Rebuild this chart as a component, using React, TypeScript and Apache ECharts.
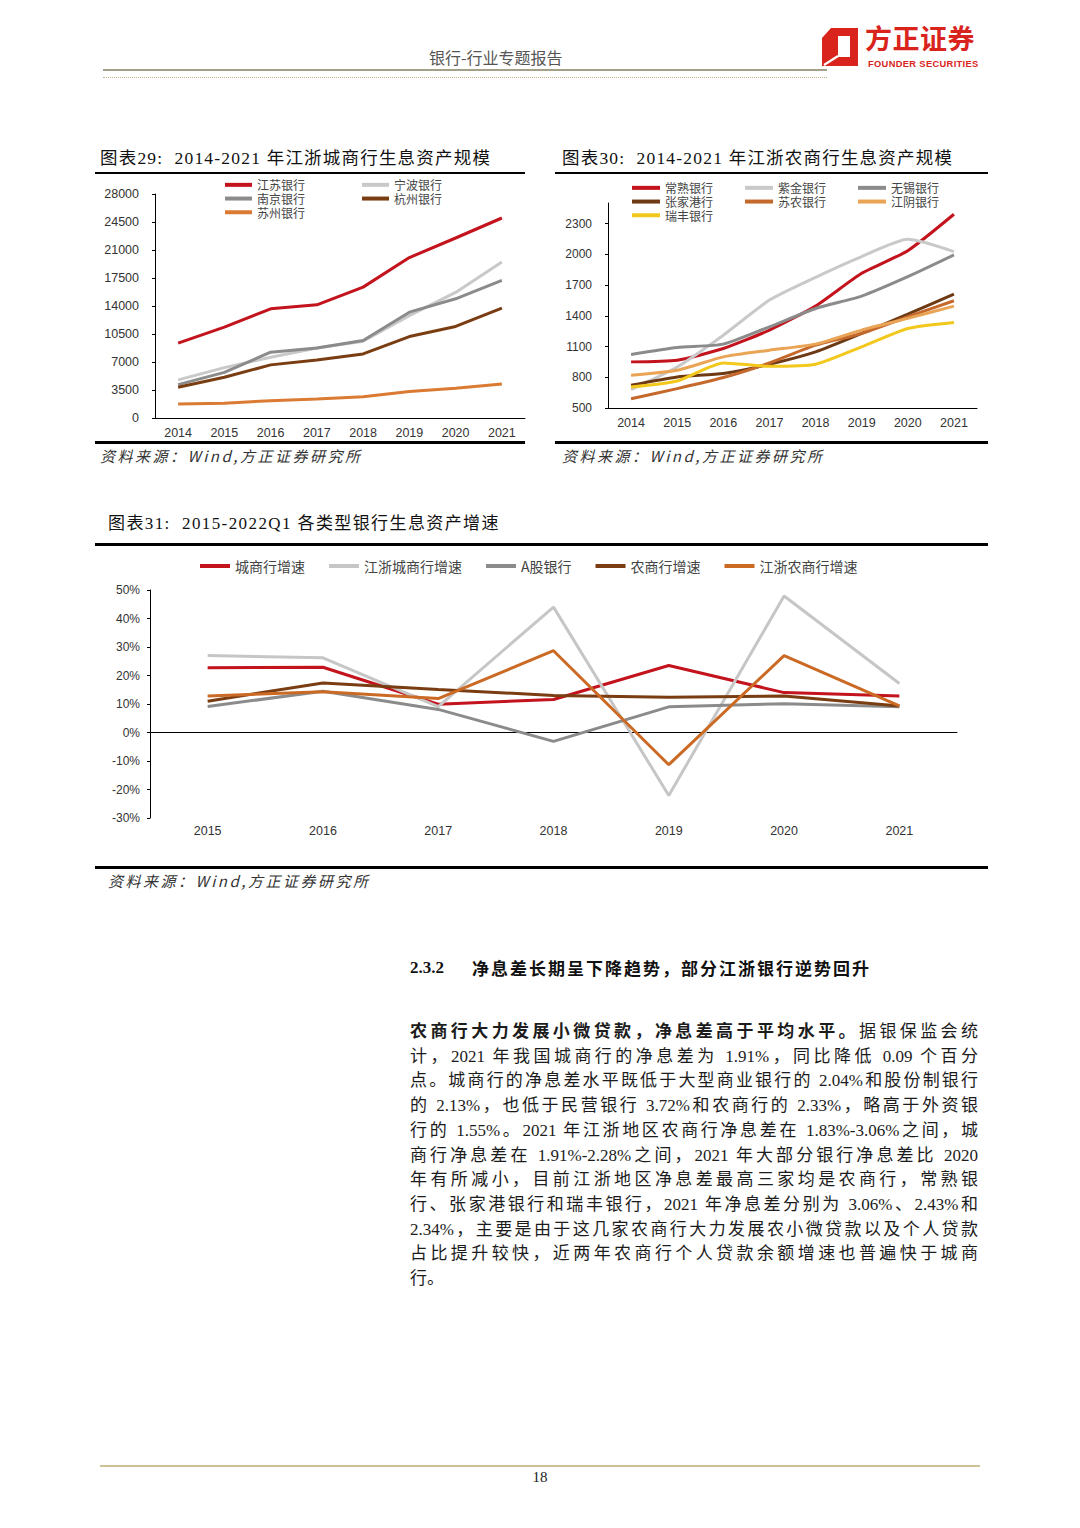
import React, { useEffect, useRef } from "react";
import * as echarts from "echarts";

// ---------- data ----------
const years = ["2014", "2015", "2016", "2017", "2018", "2019", "2020", "2021"];
// chart 29: city commercial banks (亿元)
const jiangsu = [9350, 11350, 13650, 14150, 16360, 20050, 22500, 25000];
const ningbo = [4760, 6300, 7600, 8760, 9600, 12800, 15700, 19500];
const nanjing = [4170, 5700, 8220, 8760, 9680, 13230, 14900, 17200];
const hangzhou = [3840, 5090, 6640, 7260, 8010, 10180, 11440, 13730];
const suzhou = [1750, 1840, 2170, 2380, 2670, 3300, 3710, 4260];
// chart 30: rural commercial banks
const changshu = [950, 966, 1080, 1260, 1494, 1814, 2035, 2390];
const zijin = [680, 900, 1210, 1553, 1775, 1977, 2146, 2026];
const wuxi = [1022, 1090, 1123, 1292, 1471, 1592, 1781, 1993];
const zhangjiagang = [722, 803, 836, 927, 1048, 1227, 1416, 1612];
const sunong = [591, 689, 797, 940, 1113, 1227, 1390, 1546];
const jiangyin = [820, 868, 999, 1064, 1123, 1260, 1374, 1494];
const ruifeng = [705, 764, 940, 907, 927, 1097, 1276, 1335];
// chart 31: growth (%)
const years31 = ["2015", "2016", "2017", "2018", "2019", "2020", "2021"];
const cityGrowth = [22.7, 22.9, 9.9, 11.6, 23.5, 14.0, 12.8];
const jzCityGrowth = [27.0, 26.2, 9.1, 44.0, -22.1, 47.9, 17.2];
const aShareGrowth = [9.1, 14.5, 8.1, -3.1, 9.0, 10.1, 9.0];
const ruralGrowth = [11.0, 17.4, 15.1, 13.0, 12.4, 12.8, 9.3];
const jzRuralGrowth = [12.8, 14.3, 11.9, 28.7, -11.3, 27.0, 9.3];

const paraLines: (string | [string, string])[] = [
  ["农商行大力发展小微贷款，净息差高于平均水平。", "据银保监会统"],
  "计，2021 年我国城商行的净息差为 1.91%，同比降低 0.09 个百分",
  "点。城商行的净息差水平既低于大型商业银行的 2.04%和股份制银行",
  "的 2.13%，也低于民营银行 3.72%和农商行的 2.33%，略高于外资银",
  "行的 1.55%。2021 年江浙地区农商行净息差在 1.83%-3.06%之间，城",
  "商行净息差在 1.91%-2.28%之间，2021 年大部分银行净息差比 2020",
  "年有所减小，目前江浙地区净息差最高三家均是农商行，常熟银",
  "行、张家港银行和瑞丰银行，2021 年净息差分别为 3.06%、2.43%和",
  "2.34%，主要是由于这几家农商行大力发展农小微贷款以及个人贷款",
  "占比提升较快，近两年农商行个人贷款余额增速也普遍快于城商",
  "行。",
];

// ---------- styles ----------
const axisFont = "'Liberation Sans', Arial, sans-serif";
const cjkFont = "'Noto Sans CJK SC', sans-serif";
const serifFont = "'Liberation Serif', 'Noto Sans CJK SC', serif";

function ser(name: string, data: number[], color: string, idx: number, smooth: boolean | number = false) {
  return {
    type: "line",
    name,
    data,
    xAxisIndex: idx,
    yAxisIndex: idx,
    symbol: "none",
    showSymbol: false,
    smooth,
    color,
    lineStyle: { color, width: 3 },
    itemStyle: { color },
    emphasis: { disabled: true },
  };
}

const blackLine = { lineStyle: { color: "#000", width: 1 } };
const axisLabelBase = { fontSize: 12.5, color: "#333", fontFamily: axisFont };
const plain = (v: number) => String(v);

const legendV = {
  orient: "vertical",
  itemGap: 0,
  itemWidth: 27,
  itemHeight: 4,
  icon: "rect",
  padding: 0,
  selectedMode: false,
  textStyle: { fontSize: 12, color: "#444", fontFamily: cjkFont, lineHeight: 13.7 },
};

function buildOption() {
  return {
    animation: false,
    backgroundColor: "transparent",
    grid: [
      { left: 155, top: 194, width: 370, height: 224 },
      { left: 608, top: 203, width: 369, height: 205 },
      { left: 150, top: 590, width: 807, height: 228 },
    ],
    legend: [
      { ...legendV, left: 225, top: 178, data: ["江苏银行", "南京银行", "苏州银行"] },
      { ...legendV, left: 362, top: 178, data: ["宁波银行", "杭州银行"] },
      { ...legendV, left: 632, top: 181, itemWidth: 28, data: ["常熟银行", "张家港行", "瑞丰银行"] },
      { ...legendV, left: 745, top: 181, itemWidth: 28, data: ["紫金银行", "苏农银行"] },
      { ...legendV, left: 858, top: 181, itemWidth: 28, data: ["无锡银行", "江阴银行"] },
      {
        orient: "horizontal",
        left: 200,
        top: 559,
        itemGap: 24,
        itemWidth: 30,
        itemHeight: 4,
        icon: "rect",
        padding: 0,
        selectedMode: false,
        textStyle: { fontSize: 14, color: "#444", fontFamily: cjkFont, lineHeight: 14 },
        data: ["城商行增速", "江浙城商行增速", "A股银行", "农商行增速", "江浙农商行增速"],
      },
    ],
    xAxis: [
      {
        gridIndex: 0,
        type: "category",
        data: years,
        boundaryGap: true,
        axisLine: blackLine,
        axisTick: { length: 4, lineStyle: { color: "#000" } },
        axisLabel: { ...axisLabelBase, margin: 8 },
      },
      {
        gridIndex: 1,
        type: "category",
        data: years,
        boundaryGap: true,
        axisLine: blackLine,
        axisTick: { length: 4, lineStyle: { color: "#000" } },
        axisLabel: { ...axisLabelBase, margin: 8 },
      },
      {
        gridIndex: 2,
        type: "category",
        data: years31,
        boundaryGap: true,
        axisLine: { onZero: true, ...blackLine },
        axisTick: { length: 4, lineStyle: { color: "#000" } },
        axisLabel: { show: false },
      },
      {
        gridIndex: 2,
        type: "category",
        data: years31,
        position: "bottom",
        boundaryGap: true,
        axisLine: { show: false, onZero: false },
        axisTick: { show: false },
        axisLabel: { ...axisLabelBase, margin: 6 },
      },
    ],
    yAxis: [
      {
        gridIndex: 0,
        type: "value",
        min: 0,
        max: 28000,
        interval: 3500,
        axisLine: { show: true, ...blackLine },
        axisTick: { show: true, length: 3, lineStyle: { color: "#000" } },
        splitLine: { show: false },
        axisLabel: { ...axisLabelBase, margin: 16, formatter: plain },
      },
      {
        gridIndex: 1,
        type: "value",
        min: 500,
        max: 2500,
        interval: 300,
        axisLine: { show: true, ...blackLine },
        axisTick: { show: true, length: 3, lineStyle: { color: "#000" } },
        splitLine: { show: false },
        axisLabel: { ...axisLabelBase, fontSize: 12, margin: 16, showMaxLabel: false, formatter: plain },
      },
      {
        gridIndex: 2,
        type: "value",
        min: -30,
        max: 50,
        interval: 10,
        axisLine: { show: true, ...blackLine },
        axisTick: { show: true, length: 3, lineStyle: { color: "#000" } },
        splitLine: { show: false },
        axisLabel: { ...axisLabelBase, fontSize: 12, margin: 10, formatter: "{value}%" },
      },
    ],
    series: [
      ser("江苏银行", jiangsu, "#c3131d", 0),
      ser("宁波银行", ningbo, "#c9c9c9", 0),
      ser("南京银行", nanjing, "#8b8b8b", 0),
      ser("杭州银行", hangzhou, "#7a3d12", 0),
      ser("苏州银行", suzhou, "#db7a33", 0),

      ser("常熟银行", changshu, "#c3131d", 1, 0.2),
      ser("紫金银行", zijin, "#c9c9c9", 1, 0.2),
      ser("无锡银行", wuxi, "#8b8b8b", 1, 0.2),
      ser("张家港行", zhangjiagang, "#6e3a14", 1, 0.2),
      ser("苏农银行", sunong, "#c4682c", 1, 0.2),
      ser("江阴银行", jiangyin, "#eaa455", 1, 0.2),
      ser("瑞丰银行", ruifeng, "#f2c81c", 1, 0.2),

      ser("城商行增速", cityGrowth, "#c3131d", 2),
      ser("江浙城商行增速", jzCityGrowth, "#c6c6c6", 2),
      ser("A股银行", aShareGrowth, "#8b8b8b", 2),
      ser("农商行增速", ruralGrowth, "#7a3d12", 2),
      ser("江浙农商行增速", jzRuralGrowth, "#cb6a24", 2),
    ],
  };
}

// ---------- helpers ----------
type TProps = {
  x: number;
  y: number;
  size: number;
  children: React.ReactNode;
  bold?: boolean;
  italic?: boolean;
  color?: string;
  family?: string;
  spacing?: number;
  center?: boolean;
  lh?: number;
};

function T({ x, y, size, children, bold, italic, color = "#222", family = serifFont, spacing = 0, center, lh }: TProps) {
  const h = lh ?? Math.round(size * 1.3);
  return (
    <div
      style={{
        position: "absolute",
        left: center ? x - 200 : x,
        width: center ? 400 : undefined,
        textAlign: center ? "center" : undefined,
        top: y - h / 2,
        height: h,
        lineHeight: `${h}px`,
        fontSize: size,
        fontWeight: bold ? 700 : 400,
        fontStyle: italic ? "italic" : "normal",
        color,
        fontFamily: family,
        letterSpacing: spacing,
        whiteSpace: "pre",
      }}
    >
      {children}
    </div>
  );
}

function Rule({ x, y, w, h, color = "#000" }: { x: number; y: number; w: number; h: number; color?: string }) {
  return <div style={{ position: "absolute", left: x, top: y, width: w, height: h, background: color }} />;
}

export default function App() {
  const ref = useRef<HTMLDivElement>(null);
  useEffect(() => {
    const chart = echarts.init(ref.current as HTMLDivElement, null, { renderer: "svg" });
    chart.setOption(buildOption() as any);
    return () => chart.dispose();
  }, []);

  const paraTop = 1032;
  const paraStep = 24.7;

  return (
    <div
      style={{
        position: "absolute",
        left: 0,
        top: 0,
        width: 1080,
        height: 1528,
        background: "#fff",
        overflow: "hidden",
      }}
    >
      <div ref={ref} style={{ position: "absolute", left: 0, top: 0, width: 1080, height: 1528 }} />

      {/* header */}
      <T x={429} y={57} size={16} color="#555" family={cjkFont}>
        银行-行业专题报告
      </T>
      <Rule x={103} y={69} w={724} h={2} color="#a39f88" />
      <div
        style={{ position: "absolute", left: 103, top: 77, width: 724, height: 0, borderTop: "1px dotted #bfae86" }}
      />
      <svg style={{ position: "absolute", left: 822, top: 28 }} width={36} height={38} viewBox="0 0 36 38">
        <path d="M9 0 H36 V38 H0 V10 Z M16 8 V29 H28 V8 Z" fill="#d9231d" fillRule="evenodd" />
        <path d="M2 37 L16 28" stroke="#fff" strokeWidth={2.2} />
      </svg>
      <T x={865} y={37.5} size={27} bold color="#d9231d" family={cjkFont} lh={28} spacing={0.5}>
        方正证券
      </T>
      <T x={868} y={63.5} size={9.3} bold color="#d9231d" family={axisFont} spacing={0.35} lh={10}>
        FOUNDER SECURITIES
      </T>

      {/* chart 29 frame */}
      <T x={100} y={158} size={17.5} color="#111" spacing={1.2}>
        {"图表29:  2014-2021 年江浙城商行生息资产规模"}
      </T>
      <Rule x={95} y={171.5} w={430} h={2.5} />
      <Rule x={95} y={440.5} w={430} h={3} />
      <T x={100} y={456} size={15} italic color="#333" family={cjkFont} spacing={2.5}>
        资料来源：Wind,方正证券研究所
      </T>

      {/* chart 30 frame */}
      <T x={562} y={158} size={17.5} color="#111" spacing={1.2}>
        {"图表30:  2014-2021 年江浙农商行生息资产规模"}
      </T>
      <Rule x={555} y={171.5} w={433} h={2.5} />
      <Rule x={555} y={440.5} w={433} h={3} />
      <T x={562} y={456} size={15} italic color="#333" family={cjkFont} spacing={2.5}>
        资料来源：Wind,方正证券研究所
      </T>

      {/* chart 31 frame */}
      <T x={108} y={524} size={17} color="#111" spacing={1.4}>
        {"图表31:  2015-2022Q1 各类型银行生息资产增速"}
      </T>
      <Rule x={95} y={542.5} w={893} h={3} />
      <Rule x={95} y={865.5} w={893} h={3} />
      <T x={108} y={881} size={15} italic color="#333" family={cjkFont} spacing={2.5}>
        资料来源：Wind,方正证券研究所
      </T>

      {/* section heading */}
      <T x={410} y={968} size={17} bold color="#111">
        2.3.2
      </T>
      <T x={472} y={968} size={17} bold color="#111" family={cjkFont} spacing={2}>
        净息差长期呈下降趋势，部分江浙银行逆势回升
      </T>

      {/* paragraph */}
      {paraLines.map((line, i) => {
        const last = i === paraLines.length - 1;
        const h = 24;
        return (
          <div
            key={i}
            style={{
              position: "absolute",
              left: 410,
              width: 568,
              top: paraTop + i * paraStep - h / 2,
              height: h,
              lineHeight: `${h}px`,
              fontSize: 17,
              fontFamily: serifFont,
              color: "#1c1c1c",
              textAlign: last ? "left" : "justify",
              textAlignLast: last ? "left" : "justify",
            } as React.CSSProperties}
          >
            {Array.isArray(line) ? (
              <>
                <span style={{ fontWeight: 700 }}>{line[0]}</span>
                <span>{line[1]}</span>
              </>
            ) : (
              line
            )}
          </div>
        );
      })}

      {/* footer */}
      <Rule x={100} y={1465} w={880} h={2} color="#cfc095" />
      <T x={540} y={1477} size={15} center color="#222">
        18
      </T>
    </div>
  );
}
